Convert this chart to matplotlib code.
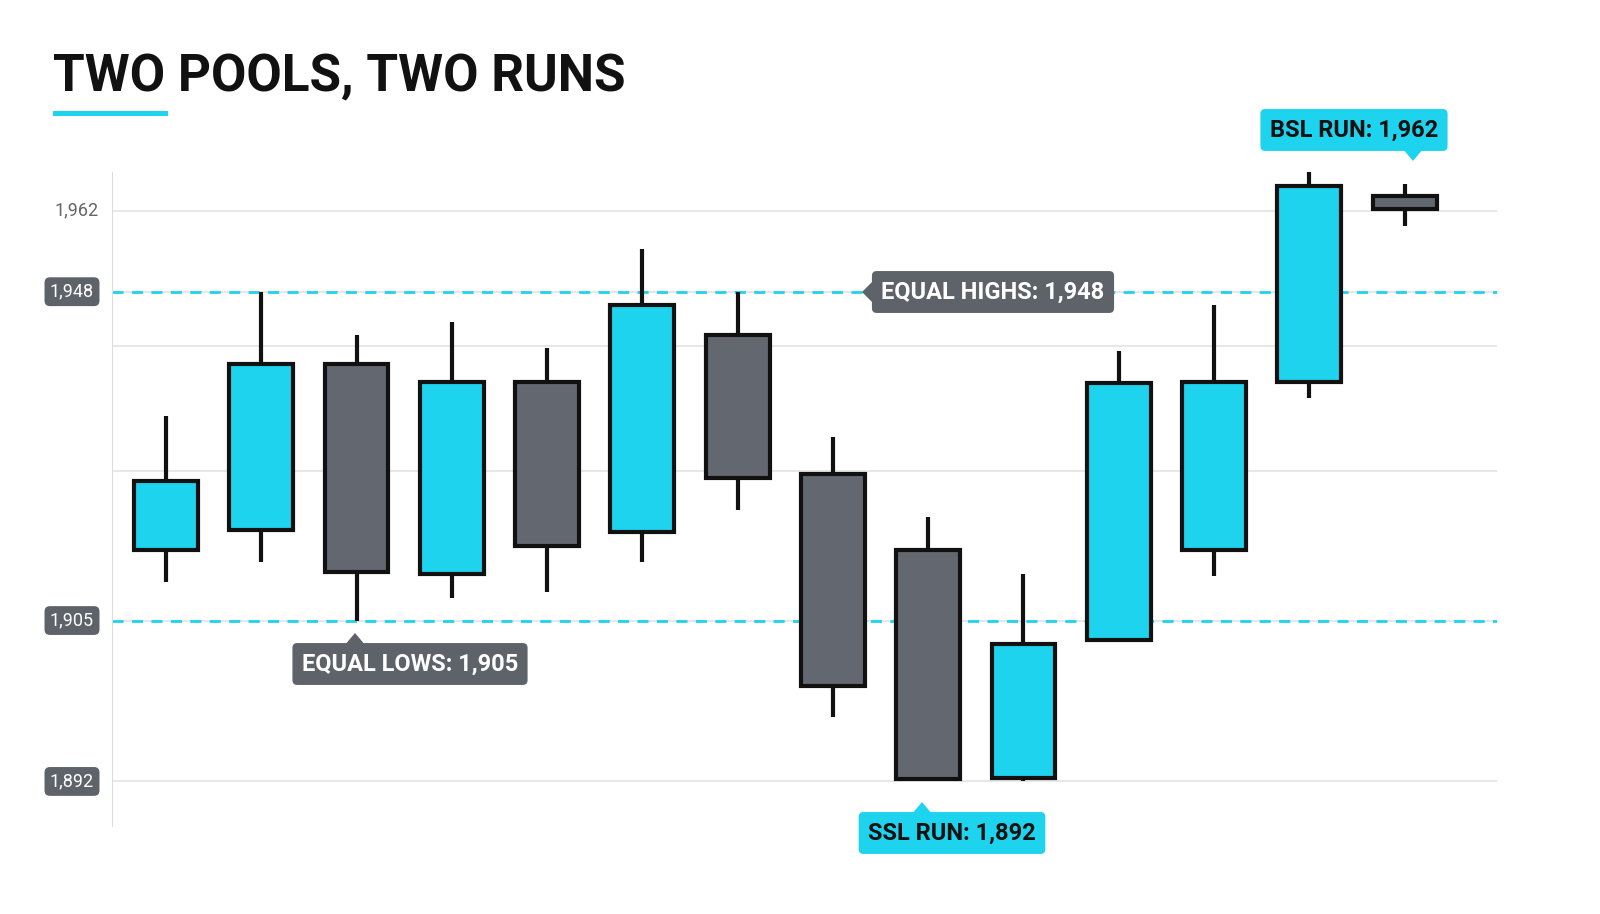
import numpy as np
import matplotlib.pyplot as plt
from matplotlib.patches import Rectangle, Polygon

plt.rcParams['font.family'] = ['Roboto', 'DejaVu Sans']

# candle data (prices)
opens = [1914.2, 1916.9, 1938.5, 1911.1, 1936.2, 1916.6, 1942.3, 1924.1, 1914.2, 1892.3, 1903.4, 1914.2, 1936.2, 1964.6]
closes = [1923.3, 1938.5, 1911.4, 1936.2, 1914.8, 1946.2, 1923.7, 1899.7, 1892.2, 1903.1, 1936.1, 1936.2, 1966.3, 1962.3]
highs = [1931.7, 1948.0, 1942.4, 1944.1, 1940.6, 1955.4, 1948.0, 1929.0, 1918.5, 1911.1, 1940.3, 1946.3, 1968.7, 1966.7]
lows = [1910.0, 1912.7, 1905.0, 1908.0, 1908.7, 1912.7, 1919.5, 1897.2, 1892.0, 1892.0, 1903.4, 1910.8, 1934.1, 1959.4]
labeled_levels = [1962, 1948, 1905, 1892]
grid_levels = [1962, 1948, 1940.9, 1924.6, 1905, 1892]
equal_high, equal_low = 1948, 1905

CYAN = '#1ED3EE'
GREY = '#636870'
BOX = '#5E636A'

# the picture's price axis is not linear; piecewise mapping between labeled levels
anchor_p = np.array([1870, 1892, 1905, 1948, 1962, 1990])
anchor_y = np.array([-1054.4, -782, -621, -292, -211, -49])


def fwd(v):
    return np.interp(v, anchor_p, anchor_y)


def inv(v):
    return np.interp(v, anchor_y, anchor_p)


W, H = 1600, 914
fig = plt.figure(figsize=(16, 9.14), dpi=100)
ax = fig.add_axes([112 / W, 1 - 826 / H, (1497 - 112) / W, (826 - 172) / H])
ax.set_yscale('function', functions=(fwd, inv))
ax.set_ylim(1888.4, 1968.7)
ax.set_xlim(-0.567, 13.97)

for s in ['top', 'right', 'bottom']:
    ax.spines[s].set_visible(False)
ax.spines['left'].set_color('#dddddd')
ax.set_xticks([])
ax.set_yticks([])

for g in grid_levels:
    ax.axhline(g, color='#e3e3e3', lw=1.2, zorder=0)
for g in [equal_high, equal_low]:
    ax.axhline(g, color=CYAN, lw=2, ls=(0, (4, 3)), zorder=1)

bw = 0.67
for i, (o, c, h, l) in enumerate(zip(opens, closes, highs, lows)):
    col = CYAN if c >= o else GREY
    ax.plot([i, i], [l, h], color='#111111', lw=3, zorder=2, solid_capstyle='butt')
    ax.add_patch(Rectangle((i - bw / 2, min(o, c)), bw, abs(c - o), facecolor=col,
                           edgecolor='#111111', lw=3, zorder=3))

# y labels
ytr = ax.get_yaxis_transform()
lx = (72 - 112) / (1497 - 112)
for lv in labeled_levels:
    txt = f'{lv:,}'
    if lv == 1962:
        ax.text(lx + 0.003, lv, txt, transform=ytr, ha='center', va='center', fontsize=13, color='#666666')
    else:
        ax.text(lx, lv, txt, transform=ytr, ha='center', va='center', fontsize=13, color='white',
                bbox=dict(boxstyle='round,pad=0.3,rounding_size=0.3', fc=BOX, ec='none'), clip_on=False)


def px(x, y):
    return x / W, 1 - y / H


def label(x, y, text, fc, tc, tri):
    fig.text(*px(x, y), text, ha='center', va='center', fontsize=17, fontweight='bold', color=tc,
             bbox=dict(boxstyle='round,pad=0.4,rounding_size=0.2', fc=fc, ec='none'))
    fig.add_artist(Polygon([px(a, b) for a, b in tri], closed=True, transform=fig.transFigure,
                           fc=fc, ec='none'))


label(993, 292, 'EQUAL HIGHS: 1,948', BOX, 'white', [(874, 280), (862, 292), (874, 304)])
label(410, 664, 'EQUAL LOWS: 1,905', BOX, 'white', [(344, 646), (355, 633), (366, 646)])
label(952, 833, 'SSL RUN: 1,892', CYAN, '#111111', [(911, 815), (922, 802), (933, 815)])
label(1354, 130, 'BSL RUN: 1,962', CYAN, '#111111', [(1402, 148), (1413, 161), (1424, 148)])

fig.text(*px(53, 77), 'TWO POOLS, TWO RUNS', ha='left', va='center', fontsize=37,
         fontweight='bold', color='#111111')
fig.add_artist(Rectangle(px(53, 116), 115 / W, 5 / H, transform=fig.transFigure, fc=CYAN, ec='none'))

fig.savefig('out.png', dpi=100, facecolor='white')
